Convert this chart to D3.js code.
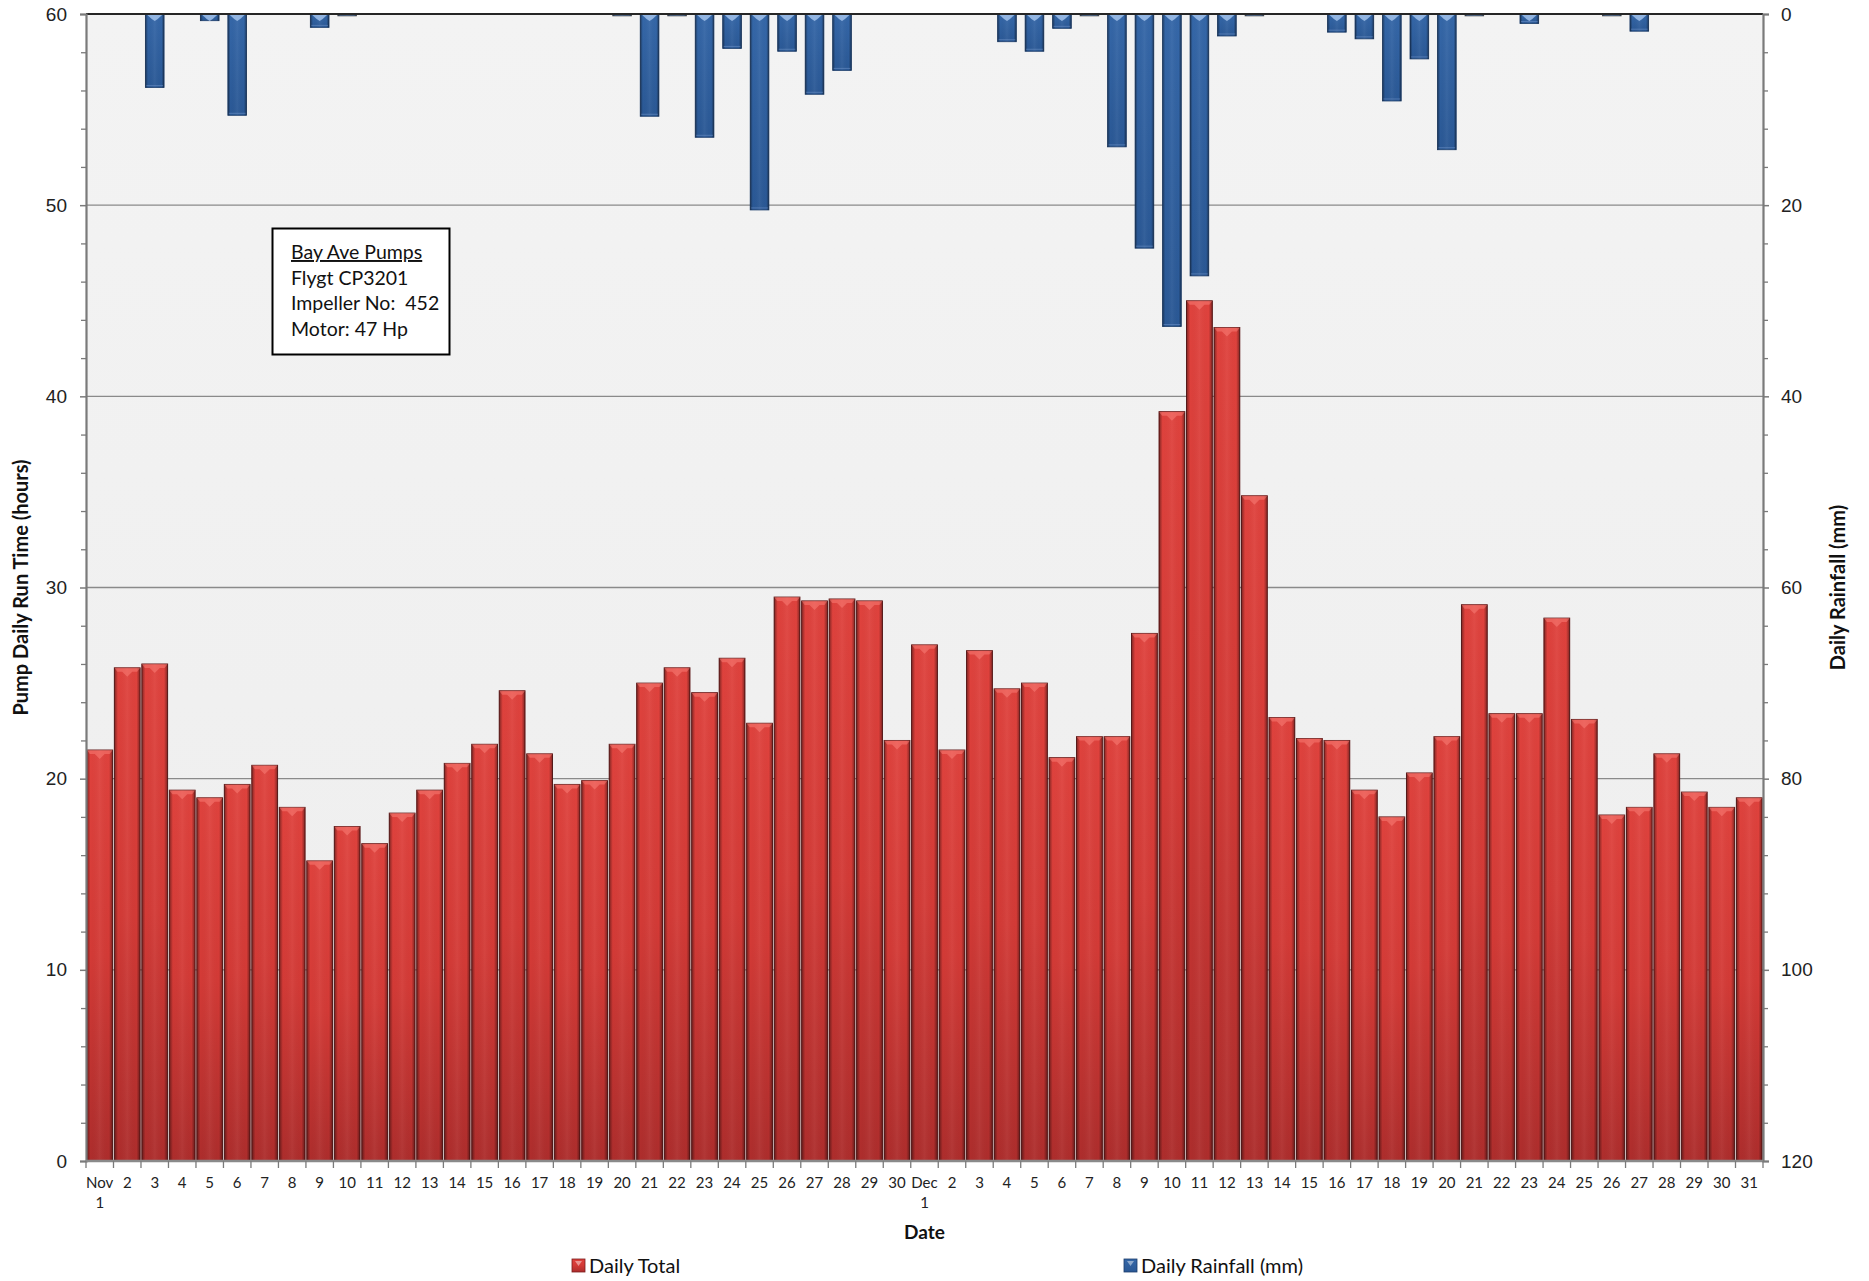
<!DOCTYPE html>
<html>
<head>
<meta charset="utf-8">
<script src="https://cdn.jsdelivr.net/npm/d3@7"></script>
<style>
  html, body { margin: 0; padding: 0; background: #ffffff; }
  svg { display: block; font-family: Lato, "Open Sans", sans-serif; }
  .keep-spaces { white-space: pre; }
</style>
</head>
<body>
<svg id="chart" width="1869" height="1281"></svg>
<script>
// Day labels, Nov 1 – Dec 31
const dateLabels = [
  "Nov 1","2","3","4","5","6","7","8","9","10","11","12","13","14","15","16","17","18","19","20",
  "21","22","23","24","25","26","27","28","29","30",
  "Dec 1","2","3","4","5","6","7","8","9","10","11","12","13","14","15","16","17","18","19","20",
  "21","22","23","24","25","26","27","28","29","30","31"
];

// Pump daily run time (hours)
const dailyTotal = [
  21.5, 25.8, 26.0, 19.4, 19.0, 19.7, 20.7, 18.5, 15.7, 17.5, 16.6, 18.2, 19.4, 20.8, 21.8,
  24.6, 21.3, 19.7, 19.9, 21.8, 25.0, 25.8, 24.5, 26.3, 22.9, 29.5, 29.3, 29.4, 29.3, 22.0,
  27.0, 21.5, 26.7, 24.7, 25.0, 21.1, 22.2, 22.2, 27.6, 39.2, 45.0, 43.6, 34.8, 23.2, 22.1,
  22.0, 19.4, 18.0, 20.3, 22.2, 29.1, 23.4, 23.4, 28.4, 23.1, 18.1, 18.5, 21.3, 19.3, 18.5, 19.0
];

// Daily rainfall (mm)
const dailyRainfall = [
  0, 0, 7.7, 0, 0.7, 10.6, 0, 0, 1.4, 0.2, 0, 0, 0, 0, 0,
  0, 0, 0, 0, 0.2, 10.7, 0.2, 12.9, 3.6, 20.5, 3.9, 8.4, 5.9, 0, 0,
  0, 0, 0, 2.9, 3.9, 1.5, 0.2, 13.9, 24.5, 32.7, 27.4, 2.3, 0.2, 0, 0,
  1.9, 2.6, 9.1, 4.7, 14.2, 0.2, 0, 1.0, 0, 0, 0.2, 1.8, 0, 0, 0, 0
];

const leftTicks = [0, 10, 20, 30, 40, 50, 60];
const rightTicks = [0, 20, 40, 60, 80, 100, 120];
const noteLines = ["Bay Ave Pumps", "Flygt CP3201", "Impeller No:  452", "Motor: 47 Hp"];
const seriesNames = ["Daily Total", "Daily Rainfall (mm)"];

const svg = d3.select("#chart");
const plot = { left: 86, right: 1763, top: 14, bottom: 1161 };
const idx = d3.range(dateLabels.length);

// Band scales share one step so bar centres line up
const xRed = d3.scaleBand().domain(idx).range([plot.left, plot.right]).paddingInner(0.06).paddingOuter(0.03);
const xBlue = d3.scaleBand().domain(idx).range([plot.left, plot.right]).paddingInner(0.32).paddingOuter(0.16);
const xStep = d3.scaleBand().domain(idx).range([plot.left, plot.right]);
const yLeft = d3.scaleLinear().domain([0, 60]).range([plot.bottom, plot.top]);
const yRight = d3.scaleLinear().domain([0, 120]).range([plot.top, plot.bottom]);

const defs = svg.append("defs");
function linGrad(id, attrs, stops) {
  const g = defs.append("linearGradient").attr("id", id);
  Object.entries(attrs).forEach(([k, v]) => g.attr(k, v));
  stops.forEach(s => g.append("stop").attr("offset", s[0]).attr("stop-color", s[1]).attr("stop-opacity", s[2] === undefined ? 1 : s[2]));
}
linGrad("plotBg", { x1: 0, y1: 0, x2: 0, y2: 1 }, [[0, "#f3f3f3"], [1, "#eeeeee"]]);
linGrad("redFill", { x1: 0, y1: 0, x2: 0, y2: 1 }, [[0, "#df423d"], [0.5, "#d33a36"], [1, "#ad2d2c"]]);
linGrad("blueFill", { x1: 0, y1: 0, x2: 0, y2: 1 }, [[0, "#3567a8"], [1, "#2a5895"]]);
linGrad("edgeShade", { x1: 0, y1: 0, x2: 1, y2: 0 },
  [[0, "#000", 0.42], [0.14, "#000", 0.0], [0.5, "#fff", 0.05], [0.86, "#000", 0.0], [1, "#000", 0.42]]);

// Plot area
svg.append("rect")
  .attr("x", plot.left).attr("y", plot.top)
  .attr("width", plot.right - plot.left).attr("height", plot.bottom - plot.top)
  .attr("fill", "url(#plotBg)");

// Horizontal gridlines
svg.append("g").selectAll("line")
  .data(leftTicks.filter(t => t > 0 && t < 60))
  .join("line")
  .attr("x1", plot.left).attr("x2", plot.right)
  .attr("y1", d => yLeft(d)).attr("y2", d => yLeft(d))
  .attr("stroke", "#8a8a8a").attr("stroke-width", 1.4);

// Pump run-time bars
const red = svg.append("g");
red.selectAll("rect.base")
  .data(dailyTotal)
  .join("rect").attr("class", "base")
  .attr("x", (d, i) => xRed(i)).attr("width", xRed.bandwidth())
  .attr("y", d => yLeft(d)).attr("height", d => yLeft(0) - yLeft(d))
  .attr("fill", "url(#redFill)")
  .attr("stroke", "#5e1616").attr("stroke-width", 0.9);
red.selectAll("rect.shade")
  .data(dailyTotal)
  .join("rect").attr("class", "shade")
  .attr("x", (d, i) => xRed(i)).attr("width", xRed.bandwidth())
  .attr("y", d => yLeft(d)).attr("height", d => yLeft(0) - yLeft(d))
  .attr("fill", "url(#edgeShade)");
red.selectAll("path.bevel")
  .data(dailyTotal)
  .join("path").attr("class", "bevel")
  .attr("d", (d, i) => {
    const x0 = xRed(i), x1 = x0 + xRed.bandwidth(), xc = (x0 + x1) / 2, t = yLeft(d);
    return `M${x0},${t}L${x1},${t}L${x1 - 3},${t + 4}L${xc + 5},${t + 4}L${xc},${t + 9}L${xc - 5},${t + 4}L${x0 + 3},${t + 4}Z`;
  })
  .attr("fill", "#ff8a80").attr("fill-opacity", 0.45);

// Rainfall bars hanging from the top
const blue = svg.append("g");
blue.selectAll("rect.base")
  .data(dailyRainfall)
  .join("rect").attr("class", "base")
  .attr("x", (d, i) => xBlue(i)).attr("width", xBlue.bandwidth())
  .attr("y", yRight(0)).attr("height", d => yRight(d) - yRight(0))
  .attr("fill", "url(#blueFill)")
  .attr("stroke", d => d > 0.3 ? "#1c3d6b" : "#555")
  .attr("stroke-width", 0.8);
blue.selectAll("rect.shade")
  .data(dailyRainfall)
  .join("rect").attr("class", "shade")
  .attr("x", (d, i) => xBlue(i)).attr("width", xBlue.bandwidth())
  .attr("y", yRight(0)).attr("height", d => yRight(d) - yRight(0))
  .attr("fill", "url(#edgeShade)");
blue.selectAll("path.bevel")
  .data(dailyRainfall.map((v, i) => ({ v, i })).filter(d => d.v >= 0.5))
  .join("path").attr("class", "bevel")
  .attr("d", d => {
    const x0 = xBlue(d.i), x1 = x0 + xBlue.bandwidth(), xc = (x0 + x1) / 2, t = yRight(0);
    const h = Math.min(4, yRight(d.v) - t - 2);
    return `M${x0 + 2},${t + 1}L${x1 - 2},${t + 1}L${xc + 3},${t + 1 + h}L${xc},${t + 3 + h}L${xc - 3},${t + 1 + h}Z`;
  })
  .attr("fill", "#a9c8f0").attr("fill-opacity", 0.8);
blue.selectAll("line.foot")
  .data(dailyRainfall.map((v, i) => ({ v, i })).filter(d => d.v >= 1))
  .join("line").attr("class", "foot")
  .attr("x1", d => xBlue(d.i) + 1).attr("x2", d => xBlue(d.i) + xBlue.bandwidth() - 1)
  .attr("y1", d => yRight(d.v) - 2).attr("y2", d => yRight(d.v) - 2)
  .attr("stroke", "#6b8fc4").attr("stroke-opacity", 0.6).attr("stroke-width", 1);

// Top border line at 60 h / 0 mm
svg.append("line")
  .attr("x1", plot.left).attr("x2", plot.right)
  .attr("y1", plot.top).attr("y2", plot.top)
  .attr("stroke", "#262626").attr("stroke-width", 2);

// Left axis
const leftAxis = svg.append("g").attr("transform", `translate(${plot.left},0)`)
  .call(d3.axisLeft(yLeft).tickValues(leftTicks).tickSize(6).tickPadding(13).tickFormat(d3.format("d")));
leftAxis.select(".domain").attr("stroke", "#7a7a7a").attr("stroke-width", 2.2);
leftAxis.selectAll(".tick line").attr("stroke", "#7a7a7a").attr("stroke-width", 1.5);
leftAxis.selectAll("text").attr("font-size", 19).attr("fill", "#222");
svg.append("g").attr("transform", `translate(${plot.left},0)`)
  .call(d3.axisLeft(yLeft).tickValues(d3.range(0, 61, 2).filter(v => v % 10)).tickSize(5).tickFormat(""))
  .call(g => g.select(".domain").remove())
  .call(g => g.selectAll("line").attr("stroke", "#7a7a7a").attr("stroke-width", 1.3));

// Right axis
const rightAxis = svg.append("g").attr("transform", `translate(${plot.right},0)`)
  .call(d3.axisRight(yRight).tickValues(rightTicks).tickSize(6).tickPadding(12).tickFormat(d3.format("d")));
rightAxis.select(".domain").attr("stroke", "#7a7a7a").attr("stroke-width", 2.2);
rightAxis.selectAll(".tick line").attr("stroke", "#7a7a7a").attr("stroke-width", 1.5);
rightAxis.selectAll("text").attr("font-size", 19).attr("fill", "#222");
svg.append("g").attr("transform", `translate(${plot.right},0)`)
  .call(d3.axisRight(yRight).tickValues(d3.range(0, 121, 4).filter(v => v % 20)).tickSize(5).tickFormat(""))
  .call(g => g.select(".domain").remove())
  .call(g => g.selectAll("line").attr("stroke", "#7a7a7a").attr("stroke-width", 1.3));

// Bottom axis: tick marks on category boundaries, labels centred in bands
const xAxisG = svg.append("g");
xAxisG.append("line")
  .attr("x1", plot.left).attr("x2", plot.right)
  .attr("y1", plot.bottom).attr("y2", plot.bottom)
  .attr("stroke", "#8a8a8a").attr("stroke-width", 2.5);
xAxisG.selectAll("line.tk")
  .data(d3.range(dateLabels.length + 1))
  .join("line").attr("class", "tk")
  .attr("x1", i => i < dateLabels.length ? xStep(i) : plot.right)
  .attr("x2", i => i < dateLabels.length ? xStep(i) : plot.right)
  .attr("y1", plot.bottom).attr("y2", plot.bottom + 7)
  .attr("stroke", "#7a7a7a").attr("stroke-width", 1.3);
const xl = xAxisG.selectAll("text.xl")
  .data(dateLabels)
  .join("text").attr("class", "xl")
  .attr("x", (d, i) => xStep(i) + xStep.bandwidth() / 2)
  .attr("y", plot.bottom + 27)
  .attr("text-anchor", "middle")
  .attr("font-size", 15).attr("fill", "#222");
xl.each(function (d) {
  const parts = d.split(" ");
  const t = d3.select(this);
  parts.forEach((p, k) => {
    t.append("tspan").attr("x", t.attr("x")).attr("dy", k === 0 ? 0 : 20).text(p);
  });
});

// Axis titles
svg.append("text")
  .attr("transform", `translate(28,${(plot.top + plot.bottom) / 2}) rotate(-90)`)
  .attr("text-anchor", "middle").attr("font-size", 20).attr("font-weight", "bold").attr("fill", "#111")
  .text("Pump Daily Run Time (hours)");
svg.append("text")
  .attr("transform", `translate(1845,${(plot.top + plot.bottom) / 2}) rotate(-90)`)
  .attr("text-anchor", "middle").attr("font-size", 20).attr("font-weight", "bold").attr("fill", "#111")
  .text("Daily Rainfall (mm)");
svg.append("text")
  .attr("x", (plot.left + plot.right) / 2).attr("y", 1239)
  .attr("text-anchor", "middle").attr("font-size", 19).attr("font-weight", "bold").attr("fill", "#111")
  .text("Date");

// Info box
const note = svg.append("g");
note.append("rect")
  .attr("x", 272.5).attr("y", 228.5).attr("width", 177).attr("height", 126)
  .attr("fill", "#ffffff").attr("stroke", "#000").attr("stroke-width", 2);
note.selectAll("text")
  .data(noteLines)
  .join("text")
  .attr("class", "keep-spaces")
  .attr("x", 291).attr("y", (d, i) => 259 + i * 25.5)
  .attr("font-size", 19.5).attr("fill", "#111")
  .attr("text-decoration", (d, i) => i === 0 ? "underline" : null)
  .text(d => d);

// Legend
const legend = svg.append("g");
const legendItems = [
  { name: seriesNames[0], x: 572, fill: "url(#redFill)", stroke: "#7a1c1c" },
  { name: seriesNames[1], x: 1124, fill: "url(#blueFill)", stroke: "#1c3d6b" }
];
legendItems.forEach(it => {
  legend.append("rect").attr("x", it.x).attr("y", 1259).attr("width", 13).attr("height", 13)
    .attr("fill", it.fill).attr("stroke", it.stroke).attr("stroke-width", 0.8);
  legend.append("path")
    .attr("d", `M${it.x + 3},${1261}L${it.x + 10},${1261}L${it.x + 6.5},${1266}Z`)
    .attr("fill", "#fff").attr("fill-opacity", 0.45);
  legend.append("text").attr("x", it.x + 17).attr("y", 1273)
    .attr("font-size", 20).attr("fill", "#111").text(it.name);
});
</script>
</body>
</html>
